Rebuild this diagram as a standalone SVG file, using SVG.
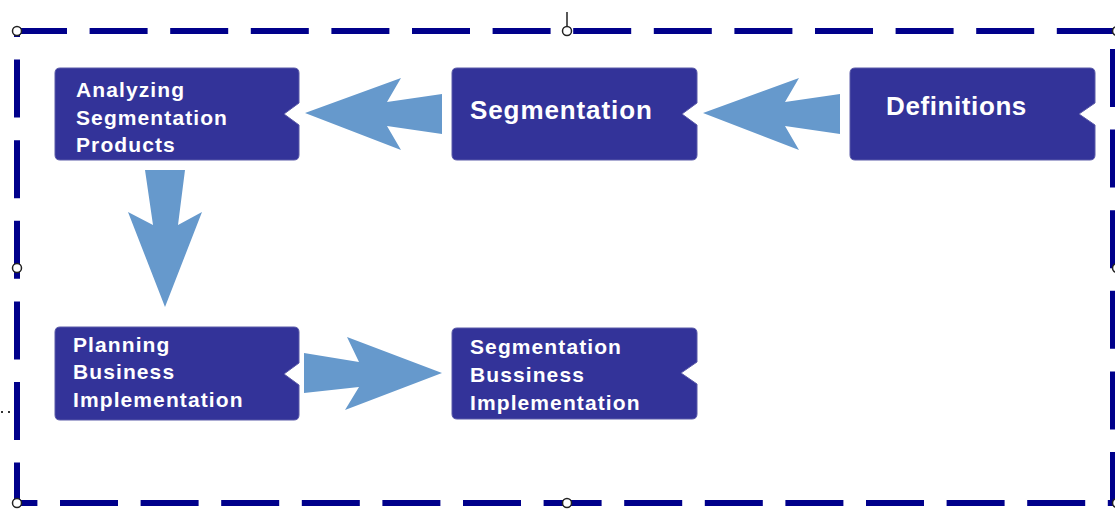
<svg xmlns="http://www.w3.org/2000/svg" width="1115" height="509" viewBox="0 0 1115 509">
<style>
.node{fill:#333399;stroke:#5a5aa8;stroke-width:1}
.lbl{fill:#ffffff;font-family:"Liberation Sans",Arial,sans-serif;font-weight:bold;font-size:21px;letter-spacing:1.1px}
.big{font-size:26px;letter-spacing:0.9px}
.arrow{fill:#6699cc}
.frame{fill:none;stroke:#00008b;stroke-width:6;stroke-dasharray:58 22.6}
.handle{fill:#ffffff;stroke:#222222;stroke-width:1.5}
</style>
<rect width="1115" height="509" fill="#ffffff"/>
<g id="frame">
<line class="frame" x1="17" y1="31" x2="1113" y2="31" stroke-dashoffset="8"/>
<line class="frame" x1="17" y1="31" x2="17" y2="503" stroke-dashoffset="52"/>
<line class="frame" x1="17" y1="503" x2="1113" y2="503" stroke-dashoffset="37.6"/>
<line class="frame" x1="1113" y1="31" x2="1113" y2="503" stroke-dashoffset="62.6"/>
<line x1="567" y1="12" x2="567" y2="27" stroke="#222222" stroke-width="1.5"/>
<circle class="handle" cx="17" cy="31" r="4.5"/>
<circle class="handle" cx="567" cy="31" r="4.5"/>
<circle class="handle" cx="17" cy="268" r="4.5"/>
<circle class="handle" cx="17" cy="503" r="4.5"/>
<circle class="handle" cx="567" cy="503" r="4.5"/>
<circle class="handle" cx="1117" cy="31" r="4.5"/>
<circle class="handle" cx="1117" cy="268" r="4.5"/>
<circle class="handle" cx="1117" cy="503" r="4.5"/>
<rect x="1" y="411" width="2" height="2" fill="#333333"/>
<rect x="8" y="411" width="2" height="2" fill="#333333"/>
</g>
<g id="connectors">
<polygon class="arrow" points="305,113 401,78 387,102 442,94 442,134 387,126 401,150"/>
<polygon class="arrow" points="703,113 799,78 785,102 840,94 840,134 785,126 799,150"/>
<polygon class="arrow" points="165,307 128,212 153,225 145,170 185,170 178,225 202,212"/>
<polygon class="arrow" points="442,373 347,337 359,362 304,353 304,393 359,387 345,410"/>
</g>
<g id="node-analyzing">
<path class="node" d="M60,68 H294 Q299,68 299,73 V103 L284,114 L299,125 V155 Q299,160 294,160 H60 Q55,160 55,155 V73 Q55,68 60,68 Z"/>
<text class="lbl" x="76" y="97">Analyzing</text>
<text class="lbl" x="76" y="125">Segmentation</text>
<text class="lbl" x="76" y="152">Products</text>
</g>
<g id="node-segmentation">
<path class="node" d="M457,68 H692 Q697,68 697,73 V103 L682,114 L697,125 V155 Q697,160 692,160 H457 Q452,160 452,155 V73 Q452,68 457,68 Z"/>
<text class="lbl big" x="470" y="119">Segmentation</text>
</g>
<g id="node-definitions">
<path class="node" d="M855,68 H1090 Q1095,68 1095,73 V103 L1079,114 L1095,125 V155 Q1095,160 1090,160 H855 Q850,160 850,155 V73 Q850,68 855,68 Z"/>
<text class="lbl big" x="886" y="115" style="letter-spacing:0.6px">Definitions</text>
</g>
<g id="node-planning">
<path class="node" d="M60,327 H294 Q299,327 299,332 V363 L284,374 L299,385 V415 Q299,420 294,420 H60 Q55,420 55,415 V332 Q55,327 60,327 Z"/>
<text class="lbl" x="73" y="352">Planning</text>
<text class="lbl" x="73" y="379">Business</text>
<text class="lbl" x="73" y="407">Implementation</text>
</g>
<g id="node-seg-business">
<path class="node" d="M457,328 H692 Q697,328 697,333 V362 L681,373 L697,384 V414 Q697,419 692,419 H457 Q452,419 452,414 V333 Q452,328 457,328 Z"/>
<text class="lbl" x="470" y="354">Segmentation</text>
<text class="lbl" x="470" y="382">Bussiness</text>
<text class="lbl" x="470" y="410">Implementation</text>
</g>
</svg>
